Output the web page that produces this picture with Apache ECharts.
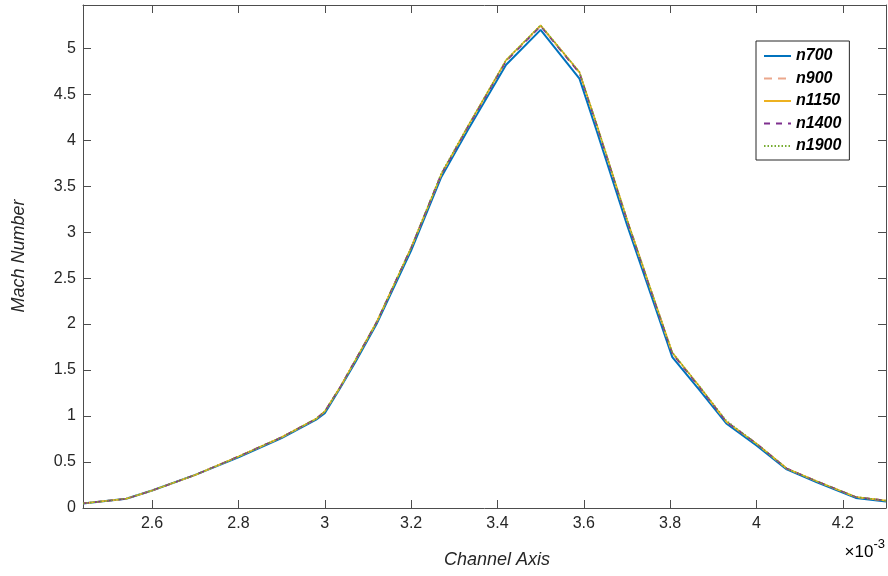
<!DOCTYPE html>
<html>
<head>
<meta charset="utf-8">
<script src="https://cdn.jsdelivr.net/npm/echarts@6/dist/echarts.min.js"></script>
<style>
  html, body { margin: 0; padding: 0; background: #fff; }
  #chart { width: 888px; height: 576px; }
</style>
</head>
<body>
<div id="chart"></div>
<script>
// x 轴位置 (×10^-3)
const xs = [2.44, 2.54, 2.6, 2.7, 2.8, 2.9, 2.98, 3.0, 3.035, 3.07, 3.12, 3.2, 3.27, 3.33, 3.42, 3.5, 3.59, 3.63, 3.7, 3.76, 3.805, 3.87, 3.93, 4.0, 4.07, 4.14, 4.23, 4.3];

// 各网格的马赫数
const n700  = [0.05, 0.10, 0.19, 0.36, 0.55, 0.76, 0.96, 1.03, 1.30, 1.58, 2.00, 2.80, 3.60, 4.10, 4.82, 5.20, 4.67, 4.10, 3.08, 2.26, 1.64, 1.27, 0.92, 0.68, 0.42, 0.28, 0.11, 0.07];
const n900  = [0.05, 0.10, 0.19, 0.36, 0.56, 0.77, 0.97, 1.05, 1.31, 1.60, 2.02, 2.83, 3.63, 4.13, 4.86, 5.24, 4.73, 4.16, 3.13, 2.30, 1.68, 1.30, 0.94, 0.70, 0.43, 0.29, 0.12, 0.08];
const n1150 = [0.05, 0.10, 0.19, 0.36, 0.56, 0.77, 0.97, 1.05, 1.31, 1.60, 2.02, 2.83, 3.63, 4.14, 4.87, 5.25, 4.74, 4.17, 3.14, 2.31, 1.69, 1.31, 0.94, 0.70, 0.43, 0.29, 0.12, 0.08];
const n1400 = [0.05, 0.10, 0.19, 0.36, 0.56, 0.77, 0.97, 1.05, 1.31, 1.60, 2.02, 2.83, 3.63, 4.13, 4.86, 5.24, 4.73, 4.16, 3.13, 2.30, 1.68, 1.30, 0.94, 0.70, 0.43, 0.29, 0.12, 0.08];
const n1900 = [0.05, 0.10, 0.19, 0.36, 0.56, 0.77, 0.97, 1.05, 1.31, 1.60, 2.02, 2.83, 3.64, 4.14, 4.87, 5.25, 4.74, 4.17, 3.14, 2.31, 1.69, 1.31, 0.95, 0.70, 0.43, 0.29, 0.12, 0.08];

const xTicks = [2.6, 2.8, 3.0, 3.2, 3.4, 3.6, 3.8, 4.0, 4.2];
const yTicks = [0, 0.5, 1, 1.5, 2, 2.5, 3, 3.5, 4, 4.5, 5];

const FONT = '"Liberation Sans", Arial, Helvetica, sans-serif';
const AXIS_COLOR = '#4d4d4d';
const TEXT_COLOR = '#262626';

const pairs = ys => xs.map((x, i) => [x, ys[i]]);

const myChart = echarts.init(document.getElementById('chart'));

function baseAxis(extra) {
  return Object.assign({
    type: 'value',
    axisLine: { show: true, onZero: false, lineStyle: { color: AXIS_COLOR, width: 1 } },
    splitLine: { show: false }
  }, extra);
}

const tickStyle = vals => ({ show: true, inside: true, length: 8, customValues: vals, lineStyle: { color: AXIS_COLOR } });

const option = {
  backgroundColor: '#fff',
  animation: false,
  grid: { left: 83, right: 2, top: 5, bottom: 68 },
  legend: {
    orient: 'vertical',
    left: 756,
    top: 41,
    padding: [7, 8, 6, 7],
    itemWidth: 27,
    itemHeight: 14,
    itemGap: 6.5,
    borderColor: '#262626',
    borderWidth: 1,
    backgroundColor: '#fff',
    itemStyle: { opacity: 0 },
    textStyle: { fontFamily: FONT, fontSize: 16, fontWeight: 'bold', fontStyle: 'italic', color: '#000', lineHeight: 15 },
    data: ['n700', 'n900', 'n1150', 'n1400', 'n1900']
  },
  xAxis: [
    baseAxis({
      min: 2.44, max: 4.3,
      position: 'bottom',
      axisTick: tickStyle(xTicks),
      axisLabel: { customValues: xTicks, fontFamily: FONT, fontSize: 16, color: TEXT_COLOR, margin: 8,
        formatter: v => String(Math.round(v * 10) / 10) }
    }),
    baseAxis({
      min: 2.44, max: 4.3,
      position: 'top',
      axisTick: tickStyle(xTicks),
      axisLabel: { show: false }
    })
  ],
  yAxis: [
    baseAxis({
      min: 0, max: 5.47,
      position: 'left',
      axisTick: tickStyle(yTicks),
      axisLabel: { customValues: yTicks, fontFamily: FONT, fontSize: 16, color: TEXT_COLOR, margin: 7 }
    }),
    baseAxis({
      min: 0, max: 5.47,
      position: 'right',
      axisTick: tickStyle(yTicks),
      axisLabel: { show: false }
    })
  ],
  graphic: [
    {
      // x 轴标题
      type: 'text',
      x: 497, y: 560,
      style: {
        text: 'Channel Axis', x: 0, y: 0, align: 'center', verticalAlign: 'middle',
        font: 'italic 18px ' + FONT, fill: TEXT_COLOR
      }
    },
    {
      // y 轴标题
      type: 'text',
      x: 19, y: 256, rotation: Math.PI / 2,
      style: {
        text: 'Mach Number', x: 0, y: 0, align: 'center', verticalAlign: 'middle',
        font: 'italic 18px ' + FONT, fill: TEXT_COLOR
      }
    },
    {
      type: 'text',
      right: 3,
      top: 538,
      style: {
        text: '{a|×10}{b|-3}',
        rich: {
          a: { fontFamily: FONT, fontSize: 17, color: TEXT_COLOR, verticalAlign: 'bottom' },
          b: { fontFamily: FONT, fontSize: 13, color: TEXT_COLOR, verticalAlign: 'top', padding: [0, 0, 10, 0] }
        }
      }
    }
  ],
  series: [
    { name: 'n700', type: 'line', data: pairs(n700), showSymbol: false, symbol: 'none',
      lineStyle: { color: '#0072BD', width: 2, type: 'solid' }, itemStyle: { color: '#0072BD' } },
    { name: 'n900', type: 'line', data: pairs(n900), showSymbol: false, symbol: 'none',
      lineStyle: { color: '#EBA78C', width: 1.6, type: [8, 6] }, itemStyle: { color: '#EBA78C' } },
    { name: 'n1150', type: 'line', data: pairs(n1150), showSymbol: false, symbol: 'none',
      lineStyle: { color: '#EDB120', width: 1.6, type: 'solid' }, itemStyle: { color: '#EDB120' } },
    { name: 'n1400', type: 'line', data: pairs(n1400), showSymbol: false, symbol: 'none',
      lineStyle: { color: '#7E2F8E', width: 1.6, type: [6, 6] }, itemStyle: { color: '#7E2F8E' } },
    { name: 'n1900', type: 'line', data: pairs(n1900), showSymbol: false, symbol: 'none',
      lineStyle: { color: '#77AC30', width: 1.6, type: [1.5, 2] }, itemStyle: { color: '#77AC30' } }
  ]
};

myChart.setOption(option);

window.onresize = () => {
  myChart.resize();
};
</script>
</body>
</html>
